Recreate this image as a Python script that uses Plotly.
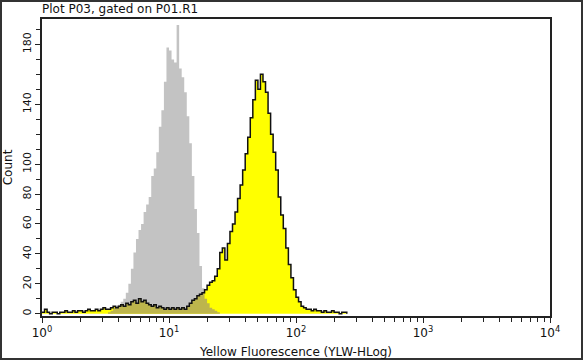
import numpy as np
import plotly.graph_objects as go

# Channel grid (log10 of fluorescence), uniform in log space as in flow cytometry
log_step = 0.02
gray_log_start = 0.50
yellow_log_start = 0.00

# Control (gray) histogram counts
gray_counts = [0, 1, 2, 4, 5, 6, 8, 10, 14, 20, 30, 41, 50, 56, 60, 68, 73, 78, 92, 97,
               108, 125, 136, 155, 178, 176, 170, 168, 193, 164, 158, 148, 132, 114, 92,
               70, 54, 32, 17, 10, 7, 4, 3, 2, 1, 0]

# Stained sample (yellow) histogram counts
yellow_counts = [1, 3, 1, 0, 1, 1, 0, 1, 1, 2, 1, 1, 2, 1, 2, 2, 1, 2, 3, 2,
                 2, 3, 2, 3, 4, 3, 3, 4, 5, 4, 5, 6, 5, 7, 6, 8, 9, 7, 10, 8,
                 9, 7, 6, 5, 6, 4, 5, 4, 3, 4, 3, 4, 3, 4, 3, 4, 3, 5, 7, 9,
                 10, 12, 13, 14, 16, 19, 21, 22, 25, 30, 41, 44, 36, 47, 55, 60, 68, 77, 86, 96,
                 107, 118, 131, 143, 156, 150, 160, 155, 148, 134, 120, 108, 96, 78, 66, 57, 44, 33, 24, 16,
                 11, 8, 5, 4, 3, 3, 2, 3, 2, 2, 1, 2, 1, 1, 2, 1, 1, 0, 1, 1, 0]

x_tickvals = [1, 10, 100, 1000, 10000]
x_ticktext = ["10<sup>0</sup>", "10<sup>1</sup>", "10<sup>2</sup>", "10<sup>3</sup>", "10<sup>4</sup>"]
y_tickvals = [0, 20, 40, 60, 80, 100, 140, 180]
y_ticktext = ["0", "20", "40", "60", "80", "100", "140", "180"]

title_text = "Plot P03, gated on P01.R1"
x_title = "Yellow Fluorescence (YLW-HLog)"
y_title = "Count"

# Build x positions
n_y = len(yellow_counts)
yl_log = yellow_log_start + log_step * np.arange(n_y)
yl_x = 10 ** yl_log
gr_log = gray_log_start + log_step * np.arange(len(gray_counts))
gr_x = 10 ** gr_log

# gray on yellow grid for overlap
offset = int(round((gray_log_start - yellow_log_start) / log_step))
gray_on_y = np.zeros(n_y)
gray_on_y[offset:offset + len(gray_counts)] = gray_counts
overlap = np.minimum(gray_on_y, np.array(yellow_counts))

W, H = 583, 360
L, R, T, B = 42, 33, 19, 44
pw, ph = W - L - R, H - T - B

fig = go.Figure()
fig.add_trace(go.Scatter(x=gr_x, y=gray_counts, mode="lines", line=dict(shape="hv", width=0, color="#c3c3c3"),
                         fill="tozeroy", fillcolor="#c3c3c3", hoverinfo="skip", showlegend=False))
fig.add_trace(go.Scatter(x=yl_x, y=yellow_counts, mode="lines", line=dict(shape="hv", width=0, color="#ffff00"),
                         fill="tozeroy", fillcolor="#ffff00", hoverinfo="skip", showlegend=False))
fig.add_trace(go.Scatter(x=yl_x, y=overlap, mode="lines", line=dict(shape="hv", width=0, color="#bdb54c"),
                         fill="tozeroy", fillcolor="#bdb54c", hoverinfo="skip", showlegend=False))
fig.add_trace(go.Scatter(x=yl_x, y=yellow_counts, mode="lines", line=dict(shape="hv", width=1.5, color="#111111"),
                         hoverinfo="skip", showlegend=False))

font = dict(family="DejaVu Sans", size=11, color="#111111")

fig.update_layout(
    width=W, height=H,
    margin=dict(l=L, r=R, t=T, b=B, autoexpand=False),
    paper_bgcolor="white", plot_bgcolor="white",
    font=font,
    title=dict(text=title_text, x=L / W, xanchor="left", y=1 - 9 / H, yanchor="middle",
               font=dict(family="DejaVu Sans", size=12, color="#111111")),
    xaxis=dict(type="log", range=[0, 4], tickvals=x_tickvals, ticktext=x_ticktext, automargin=False,
               ticks="outside", ticklen=5, tickcolor="#222", showline=True, linecolor="#222",
               linewidth=1.5, mirror=True, showgrid=False, zeroline=False,
               minor=dict(ticks="outside", ticklen=4, tickcolor="#222", dtick="D1", showgrid=False),
               title=dict(text=x_title, standoff=8, font=dict(family="DejaVu Sans", size=12, color="#111111")),
               tickfont=dict(family="DejaVu Sans", size=12, color="#111111")),
    yaxis=dict(range=[-1.5, 197], tickvals=y_tickvals, ticktext=y_ticktext, tickangle=-90, automargin=False,
               ticks="outside", ticklen=5, tickcolor="#222", showline=True, linecolor="#222",
               linewidth=1.5, mirror=True, showgrid=False, zeroline=False,
               minor=dict(ticks="outside", ticklen=4, tickcolor="#222", tickmode="linear", tick0=0, dtick=10, showgrid=False),
               title=dict(text=y_title, standoff=6, font=dict(family="DejaVu Sans", size=12, color="#111111")),
               tickfont=font),
    shapes=[dict(type="rect", xref="paper", yref="paper",
                 x0=-(L - 1) / pw, x1=(W - L - 1) / pw, y0=-(B - 1) / ph, y1=1 + (T - 1) / ph,
                 line=dict(color="#333333", width=2), fillcolor="rgba(0,0,0,0)", layer="above")],
)

fig.write_html("out.html", config={"displayModeBar": False},
               post_script="document.body.style.margin='0';document.body.style.padding='0';document.body.style.overflow='hidden';")
